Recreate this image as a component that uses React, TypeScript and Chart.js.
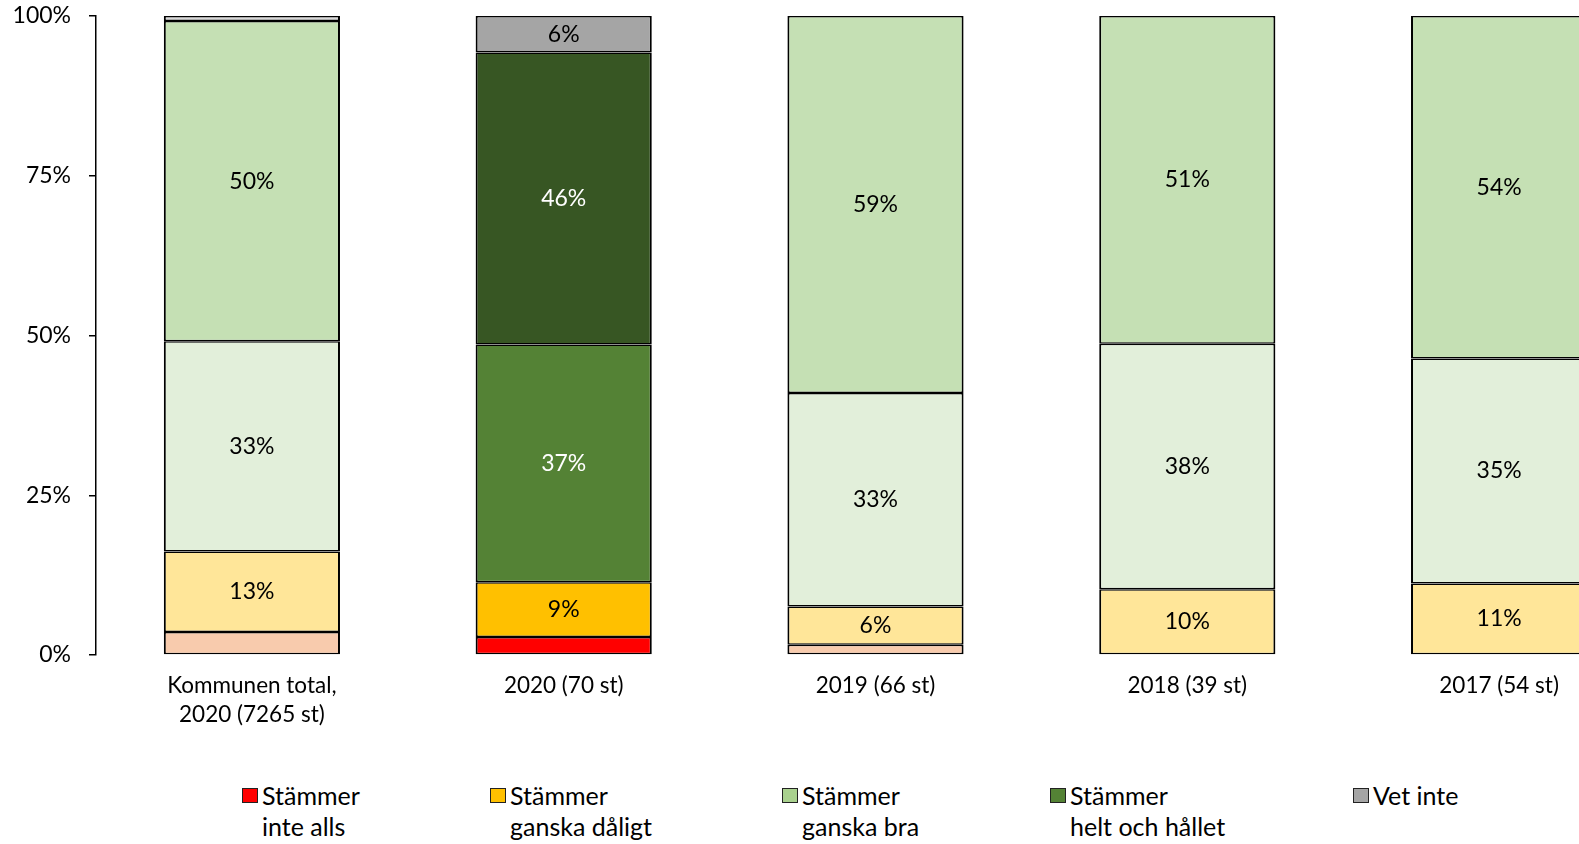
import React, { useEffect, useRef } from "react";
import { Chart, registerables } from "chart.js";

Chart.register(...registerables);

const categories: (string | string[])[] = [
  ["Kommunen total,", "2020 (7265 st)"],
  "2020 (70 st)",
  "2019 (66 st)",
  "2018 (39 st)",
  "2017 (54 st)",
];

const seriesNames = [
  ["Stämmer", "inte alls"],
  ["Stämmer", "ganska dåligt"],
  ["Stämmer", "ganska bra"],
  ["Stämmer", "helt och hållet"],
  ["Vet inte"],
];

const inteAlls = [3.6, 2.8, 1.6, null, null];
const ganskaDaligt = [12.6, 8.6, 6.0, 10.3, 11.2];
const ganskaBra = [32.9, 37.2, 33.4, 38.4, 35.2];
const heltOchHallet = [50.1, 45.7, 59.0, 51.3, 53.6];
const vetInte = [0.8, 5.7, null, null, null];

const yTicks = [0, 25, 50, 75, 100];

const seriesData = [inteAlls, ganskaDaligt, ganskaBra, heltOchHallet, vetInte];

// per-bar colours: the 2020 bar (index 1) is highlighted
const baseColors = ["#f8cbad", "#ffe699", "#e2efda", "#c5e0b4", "#d9d9d9"];
const highlightColors = ["#ff0000", "#ffc000", "#548235", "#375623", "#a5a5a5"];
const highlightLabelColors = ["#000", "#000", "#fff", "#fff", "#000"];
const legendColors = ["#ff0000", "#ffc000", "#a9d18e", "#548235", "#a5a5a5"];
const legendLefts = [242, 490, 782, 1050, 1353];

const FONT = "Lato, 'Open Sans', sans-serif";

const dataLabelPlugin = {
  id: "segLabels",
  afterDatasetsDraw(chart: any) {
    const ctx = chart.ctx;
    ctx.save();
    ctx.font = `23px ${FONT}`;
    ctx.textAlign = "center";
    ctx.textBaseline = "middle";
    chart.data.datasets.forEach((ds: any, i: number) => {
      const meta = chart.getDatasetMeta(i);
      meta.data.forEach((el: any, j: number) => {
        const v = ds.data[j];
        if (v == null || v < 5) return;
        const { x, y, base } = el.getProps(["x", "y", "base"], true);
        ctx.fillStyle = j === 1 ? highlightLabelColors[i] : "#000";
        ctx.fillText(`${Math.round(v)}%`, x, (y + base) / 2);
      });
    });
    ctx.restore();
  },
};

export default function App() {
  const ref = useRef<HTMLCanvasElement>(null);

  useEffect(() => {
    if (!ref.current) return;
    const chart = new Chart(ref.current, {
      type: "bar",
      data: {
        labels: categories as any,
        datasets: seriesData.map((d, i) => ({
          label: seriesNames[i].join(" "),
          data: d as any,
          backgroundColor: categories.map((_, j) => (j === 1 ? highlightColors[i] : baseColors[i])),
          borderColor: "#000",
          borderWidth: { left: 2, right: 2, top: 1.5, bottom: 1.5 },
          borderSkipped: false,
          barPercentage: 0.565,
          categoryPercentage: 1,
        })),
      },
      options: {
        animation: false,
        responsive: true,
        maintainAspectRatio: false,
        layout: { padding: { top: 16, right: 5, left: 0, bottom: 0 } },
        plugins: {
          legend: { display: false },
          tooltip: { enabled: false },
        },
        scales: {
          x: {
            stacked: true,
            grid: { display: false, drawTicks: false },
            border: { display: false },
            ticks: {
              color: "#000",
              font: { family: FONT, size: 22.5, lineHeight: 1.3 },
              padding: 16,
              maxRotation: 0,
              autoSkip: false,
            },
            afterFit(scale: any) {
              scale.height = 105;
              scale.paddingLeft = 0;
              scale.paddingRight = 0;
            },
          },
          y: {
            stacked: true,
            min: 0,
            max: 100,
            afterBuildTicks(scale: any) {
              scale.ticks = yTicks.map((v) => ({ value: v }));
            },
            grid: {
              drawOnChartArea: false,
              drawTicks: true,
              tickLength: 7,
              color: "#000",
              lineWidth: 1.5,
            },
            border: { display: true, color: "#000", width: 1.5 },
            ticks: {
              color: "#000",
              font: { family: FONT, size: 23 },
              padding: 18,
              callback: (v: any) => `${v}%`,
            },
            afterFit(scale: any) {
              scale.width = 96;
              scale.paddingTop = 0;
              scale.paddingBottom = 0;
            },
          },
        },
      },
      plugins: [dataLabelPlugin],
    });
    return () => chart.destroy();
  }, []);

  return (
    <div
      style={{
        position: "absolute",
        left: 0,
        top: 0,
        width: 1579,
        height: 844,
        overflow: "hidden",
        background: "#fff",
      }}
    >
      <div style={{ position: "absolute", left: 0, top: 0, width: 1660, height: 760 }}>
        <canvas ref={ref} />
      </div>
      {seriesNames.map((name, i) => (
        <div
          key={i}
          style={{
            position: "absolute",
            left: legendLefts[i],
            top: 780,
            fontFamily: FONT,
            fontSize: 25,
            lineHeight: "31px",
            color: "#000",
            whiteSpace: "nowrap",
          }}
        >
          <span
            style={{
              position: "absolute",
              left: 0,
              top: 8,
              width: 14,
              height: 13,
              background: legendColors[i],
              border: "1px solid #222",
            }}
          />
          <div style={{ marginLeft: 20 }}>
            {name.map((line, k) => (
              <div key={k}>{line}</div>
            ))}
          </div>
        </div>
      ))}
    </div>
  );
}
